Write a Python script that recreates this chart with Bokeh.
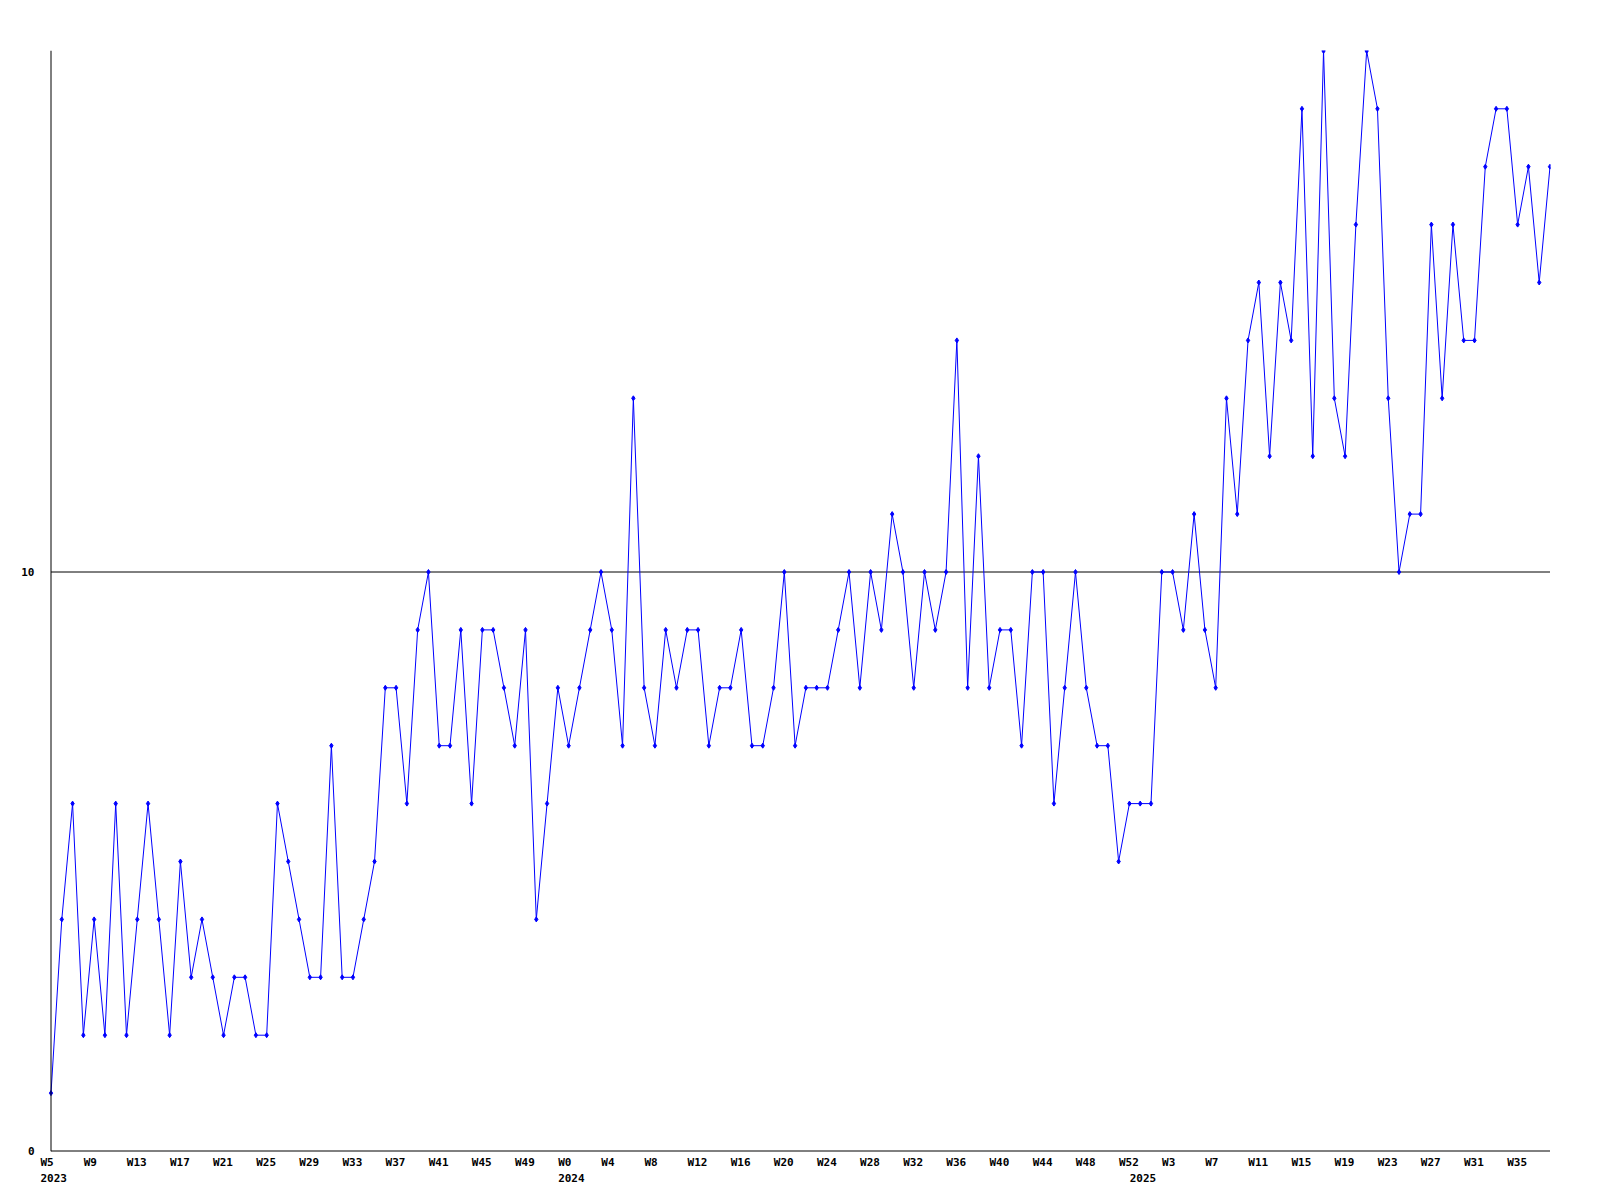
from bokeh.plotting import figure
from bokeh.models import Range1d, FixedTicker, LinearAxis, Span
from bokeh.embed import file_html
from bokeh.resources import INLINE

# ---- data -------------------------------------------------------------
values = [
    1, 4, 6, 2, 4, 2, 6, 2, 4, 6,
    4, 2, 5, 3, 4, 3, 2, 3, 3, 2,
    2, 6, 5, 4, 3, 3, 7, 3, 3, 4,
    5, 8, 8, 6, 9, 10, 7, 7, 9, 6,
    9, 9, 8, 7, 9, 4, 6, 8, 7, 8,
    9, 10, 9, 7, 13, 8, 7, 9, 8, 9,
    9, 7, 8, 8, 9, 7, 7, 8, 10, 7,
    8, 8, 8, 9, 10, 8, 10, 9, 11, 10,
    8, 10, 9, 10, 14, 8, 12, 8, 9, 9,
    7, 10, 10, 6, 8, 10, 8, 7, 7, 5,
    6, 6, 6, 10, 10, 9, 11, 9, 8, 13,
    11, 14, 15, 12, 15, 14, 18, 12, 19, 13,
    12, 16, 19, 18, 13, 10, 11, 11, 16, 13,
    16, 14, 14, 17, 18, 18, 16, 17, 15, 17,
]
weeks_2023 = [f"W{w}" for w in range(5, 53)]
weeks_2024 = [f"W{w}" for w in range(0, 53)]
weeks_2025 = [f"W{w}" for w in range(0, 39)]
week_labels = weeks_2023 + weeks_2024 + weeks_2025
year_names = ["2023", "2024", "2025"]
year_first_index = [0, len(weeks_2023), len(weeks_2023) + len(weeks_2024)]
week_label_step = 4
y_ticks = [0, 10]
ref_line = 10
y_max = 19

x = list(range(len(values)))
last = len(values) - 1

# ---- style ------------------------------------------------------------
FONT = "DejaVu Sans Mono"
FS_PX = 11
FS = f"{FS_PX}px"
CHAR_W = 0.602 * FS_PX             # monospace advance
BLUE = "#0000ff"
PX = 1499 / last                   # pixels per week
FRAME_W = 1510
LEFT_PAD = 10.5                    # frame edge -> first week (px)
FRAME_H = 1101
Y_PX = 57.9                        # pixels per unit on y
Y_TOP = (FRAME_H - 0.5) / Y_PX     # keeps 0 and 10 on pixel centres
Y_BOT = Y_TOP - FRAME_H / Y_PX

def label_pos(i, text):
    """axis value whose centred label starts 10px left of week i"""
    return round(i + (-LEFT_PAD + len(text) * CHAR_W / 2) / PX, 6)

x_start = -LEFT_PAD / PX
p = figure(
    frame_width=FRAME_W, frame_height=FRAME_H,
    x_range=Range1d(x_start, (FRAME_W - LEFT_PAD) / PX),
    y_range=Range1d(Y_BOT, Y_TOP),
    x_axis_type=None,
    output_backend="svg", toolbar_location=None,
    min_border_left=40, min_border_right=40, min_border_top=50, min_border_bottom=10,
    background_fill_color="white", border_fill_color="white",
)
p.outline_line_color = None
p.grid.visible = False

# y axis labels (the axis line itself is drawn at the first week)
ya = p.yaxis[0]
ya.ticker = FixedTicker(ticks=y_ticks)
ya.axis_line_color = None
ya.major_tick_line_color = None
ya.minor_tick_line_color = None
ya.major_tick_out = 0
ya.major_tick_in = 0
ya.major_label_standoff = 6
ya.major_label_text_font = FONT
ya.major_label_text_font_size = FS
ya.major_label_text_font_style = "bold"
ya.major_label_text_color = "black"

p.add_layout(Span(location=x[0], dimension="height", line_color="black", line_width=1))

# reference line at 10 and base line at 0, from first to last week
p.segment(x0=[x[0]], y0=[ref_line], x1=[x[-1]], y1=[ref_line],
          line_color="black", line_width=1)
p.segment(x0=[x[0]], y0=[0], x1=[x[-1]], y1=[0],
          line_color="black", line_width=1, level="overlay")

def label_axis(idx, labels, standoff):
    ticks = [label_pos(i, l) for i, l in zip(idx, labels)]
    return LinearAxis(
        ticker=FixedTicker(ticks=ticks),
        major_label_overrides={t: l for t, l in zip(ticks, labels)},
        axis_line_color=None,
        major_tick_line_color=None,
        minor_tick_line_color=None,
        major_tick_out=0, major_tick_in=0,
        major_label_standoff=standoff,
        major_label_text_font=FONT,
        major_label_text_font_size=FS,
        major_label_text_font_style="bold",
        major_label_text_color="black",
    )

wk_idx = [t for t in range(0, len(values), week_label_step) if t <= last - 3]
p.add_layout(label_axis(wk_idx, [week_labels[t] for t in wk_idx], 4), "below")
p.add_layout(label_axis(year_first_index, year_names, 2), "below")

# data
p.line(x, values, line_color=BLUE, line_width=1)
p.scatter(x, values, marker="diamond", size=5, fill_color=BLUE, line_color=BLUE)

open("out.html", "w").write(file_html(p, INLINE))
